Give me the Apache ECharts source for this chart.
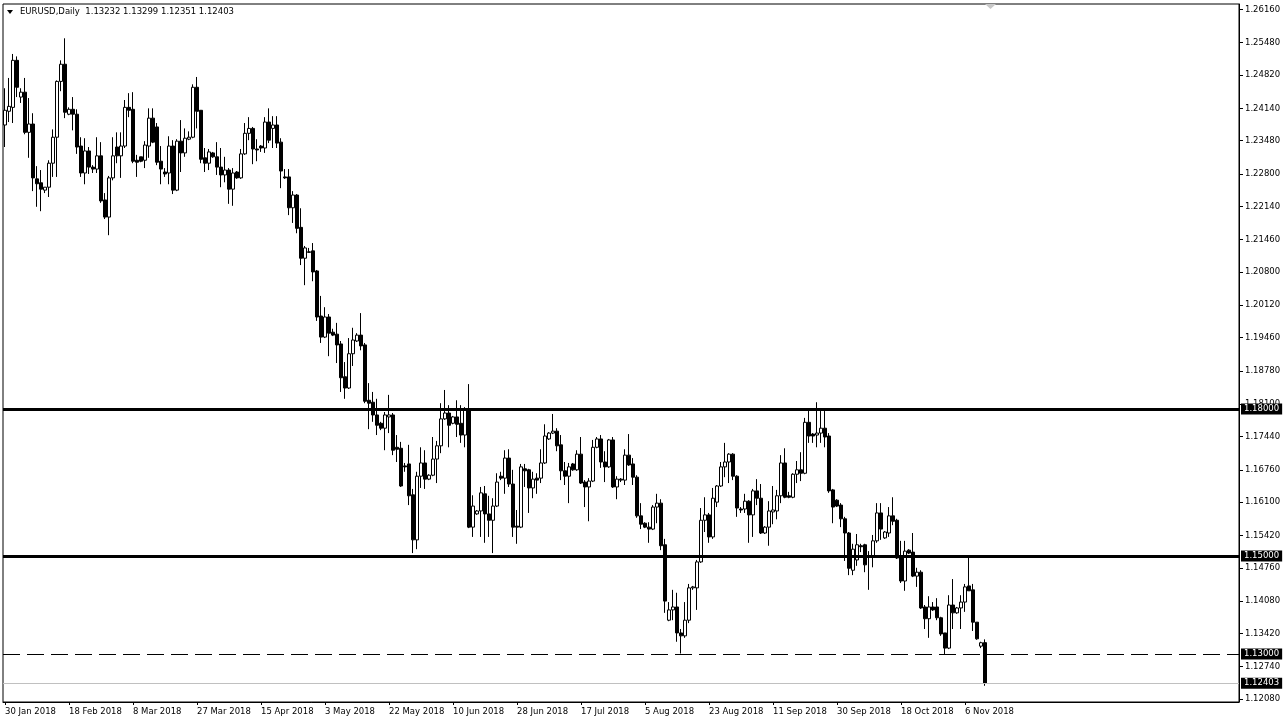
<!DOCTYPE html>
<html><head><meta charset="utf-8">
<script src="https://cdn.jsdelivr.net/npm/echarts@6/dist/echarts.min.js"></script>
<style>html,body{margin:0;padding:0;background:#fff}#c{width:1285px;height:727px}</style>
</head><body><div id="c"></div>
<script>
const chartTitle = 'EURUSD,Daily  1.13232 1.13299 1.12351 1.12403';
const xTickLabels = ['30 Jan 2018','18 Feb 2018','8 Mar 2018','27 Mar 2018','15 Apr 2018','3 May 2018','22 May 2018','10 Jun 2018','28 Jun 2018','17 Jul 2018','5 Aug 2018','23 Aug 2018','11 Sep 2018','30 Sep 2018','18 Oct 2018','6 Nov 2018'];
const barsPerLabel = 16;
const totalSlots = 309;
const yTickValues = [1.26160,1.25480,1.24820,1.24140,1.23480,1.22800,1.22140,1.21460,1.20800,1.20120,1.19460,1.18780,1.18100,1.17440,1.16760,1.16100,1.15420,1.14760,1.14080,1.13420,1.12740,1.12080];
const yMin = 1.1202, yMax = 1.2627;
const solidLevels = [1.18, 1.15];
const dashedLevel = 1.13;
const bidLevel = 1.12403;

const opens = [1.2380,1.2408,1.2416,1.2512,1.2437,1.2447,1.2365,1.2382,1.2270,1.2262,1.2247,1.2253,1.2302,1.2355,1.2469,1.2504,1.2402,1.2412,1.2402,1.2337,
1.2282,1.2327,1.2294,1.2290,1.2317,1.2227,1.2192,1.2272,1.2335,1.2317,1.2337,1.2416,1.2412,1.2308,1.2315,1.2308,1.2337,1.2394,1.2376,1.2306,
1.2284,1.2282,1.2337,1.2247,1.2347,1.2323,1.2351,1.2355,1.2457,1.2410,1.2313,1.2302,1.2323,1.2315,1.2294,1.2278,1.2288,1.2249,1.2284,1.2272,
1.2321,1.2363,1.2373,1.2331,1.2337,1.2333,1.2386,1.2373,1.2380,1.2345,1.2274,1.2274,1.2211,1.2237,1.2171,1.2108,1.2121,1.2123,1.2082,1.1990,
1.1947,1.1988,1.1957,1.1953,1.1933,1.1866,1.1843,1.1913,1.1939,1.1951,1.1931,1.1818,1.1814,1.1788,1.1771,1.1761,1.1784,1.1788,1.1722,1.1720,
1.1684,1.1688,1.1625,1.1533,1.1663,1.1690,1.1657,1.1665,1.1698,1.1725,1.1780,1.1792,1.1771,1.1784,1.1771,1.1747,1.1798,1.1559,1.1586,1.1592,
1.1627,1.1586,1.1573,1.1602,1.1663,1.1659,1.1700,1.1647,1.1561,1.1559,1.1678,1.1676,1.1639,1.1659,1.1659,1.1690,1.1739,1.1751,1.1755,1.1727,
1.1674,1.1663,1.1688,1.1676,1.1708,1.1651,1.1641,1.1653,1.1722,1.1739,1.1692,1.1682,1.1737,1.1641,1.1657,1.1655,1.1706,1.1688,1.1661,1.1582,
1.1567,1.1559,1.1555,1.1600,1.1608,1.1523,1.1369,1.1390,1.1396,1.1343,1.1337,1.1369,1.1435,1.1435,1.1488,1.1573,1.1584,1.1539,1.1610,1.1643,
1.1682,1.1692,1.1708,1.1663,1.1596,1.1596,1.1612,1.1584,1.1633,1.1618,1.1547,1.1559,1.1590,1.1592,1.1623,1.1690,1.1623,1.1620,1.1667,1.1676,
1.1669,1.1773,1.1749,1.1747,1.1751,1.1761,1.1745,1.1635,1.1614,1.1604,1.1576,1.1547,1.1471,1.1492,1.1521,1.1523,1.1500,1.1498,1.1531,1.1588,
1.1537,1.1547,1.1582,1.1573,1.1498,1.1449,1.1512,1.1508,1.1459,1.1467,1.1396,1.1372,1.1396,1.1396,1.1374,1.1343,1.1312,1.1400,1.1384,1.1394,
1.1406,1.1439,1.1431,1.1365,1.1316,1.13232];

const closes = [1.2410,1.2418,1.2512,1.2457,1.2447,1.2365,1.2382,1.2272,1.2260,1.2249,1.2253,1.2302,1.2355,1.2469,1.2504,1.2406,1.2412,1.2402,1.2335,1.2282,
1.2327,1.2294,1.2290,1.2317,1.2225,1.2192,1.2272,1.2317,1.2317,1.2337,1.2416,1.2410,1.2306,1.2304,1.2306,1.2339,1.2394,1.2345,1.2304,1.2290,
1.2280,1.2337,1.2247,1.2347,1.2323,1.2353,1.2355,1.2457,1.2408,1.2310,1.2302,1.2325,1.2315,1.2294,1.2278,1.2288,1.2249,1.2282,1.2272,1.2321,
1.2363,1.2373,1.2331,1.2329,1.2333,1.2386,1.2349,1.2380,1.2343,1.2286,1.2272,1.2211,1.2237,1.2169,1.2108,1.2129,1.2120,1.2080,1.1988,1.1947,
1.1988,1.1955,1.1951,1.1931,1.1864,1.1843,1.1913,1.1941,1.1951,1.1929,1.1816,1.1812,1.1788,1.1767,1.1761,1.1788,1.1788,1.1716,1.1718,1.1643,
1.1682,1.1623,1.1533,1.1663,1.1690,1.1657,1.1665,1.1698,1.1725,1.1780,1.1792,1.1767,1.1784,1.1769,1.1747,1.1798,1.1559,1.1602,1.1592,1.1629,
1.1586,1.1573,1.1602,1.1651,1.1659,1.1700,1.1647,1.1559,1.1559,1.1682,1.1674,1.1639,1.1657,1.1655,1.1690,1.1745,1.1751,1.1755,1.1725,1.1674,
1.1663,1.1682,1.1676,1.1708,1.1649,1.1641,1.1653,1.1722,1.1739,1.1692,1.1682,1.1737,1.1641,1.1657,1.1655,1.1706,1.1686,1.1661,1.1582,1.1565,
1.1559,1.1555,1.1600,1.1608,1.1521,1.1408,1.1390,1.1396,1.1343,1.1337,1.1369,1.1435,1.1437,1.1488,1.1573,1.1584,1.1539,1.1618,1.1643,1.1682,
1.1692,1.1708,1.1663,1.1598,1.1594,1.1612,1.1584,1.1633,1.1618,1.1547,1.1559,1.1592,1.1594,1.1623,1.1690,1.1620,1.1620,1.1667,1.1676,1.1669,
1.1773,1.1745,1.1745,1.1751,1.1761,1.1743,1.1633,1.1600,1.1602,1.1576,1.1547,1.1475,1.1514,1.1523,1.1519,1.1482,1.1498,1.1531,1.1588,1.1555,
1.1549,1.1582,1.1571,1.1496,1.1449,1.1510,1.1506,1.1459,1.1467,1.1394,1.1372,1.1396,1.1390,1.1374,1.1341,1.1312,1.1400,1.1384,1.1394,1.1406,
1.1437,1.1429,1.1365,1.1331,1.1323,1.12403];

const lows = [1.2335,1.2386,1.2384,1.2437,1.2425,1.2361,1.2313,1.2245,1.2213,1.2204,1.2241,1.2233,1.2274,1.2274,1.2449,1.2394,1.2400,1.2369,1.2321,1.2274,
1.2259,1.2280,1.2282,1.2282,1.2221,1.2188,1.2155,1.2267,1.2302,1.2272,1.2333,1.2396,1.2302,1.2274,1.2304,1.2292,1.2313,1.2343,1.2298,1.2259,
1.2274,1.2259,1.2239,1.2245,1.2284,1.2315,1.2349,1.2353,1.2373,1.2302,1.2284,1.2288,1.2313,1.2278,1.2253,1.2263,1.2219,1.2215,1.2270,1.2270,
1.2319,1.2349,1.2300,1.2306,1.2325,1.2323,1.2343,1.2333,1.2333,1.2251,1.2270,1.2196,1.2180,1.2159,1.2094,1.2053,1.2119,1.2061,1.1980,1.1935,
1.1945,1.1908,1.1949,1.1894,1.1835,1.1821,1.1841,1.1888,1.1937,1.1920,1.1812,1.1759,1.1774,1.1747,1.1757,1.1716,1.1751,1.1706,1.1692,1.1641,
1.1672,1.1604,1.1506,1.1514,1.1639,1.1637,1.1655,1.1663,1.1649,1.1710,1.1778,1.1722,1.1769,1.1743,1.1731,1.1722,1.1557,1.1539,1.1584,1.1539,
1.1527,1.1539,1.1506,1.1600,1.1655,1.1627,1.1641,1.1539,1.1525,1.1557,1.1641,1.1588,1.1618,1.1627,1.1649,1.1688,1.1737,1.1749,1.1714,1.1655,
1.1645,1.1608,1.1674,1.1674,1.1647,1.1600,1.1571,1.1651,1.1720,1.1680,1.1651,1.1680,1.1639,1.1616,1.1651,1.1645,1.1684,1.1645,1.1578,1.1555,
1.1557,1.1527,1.1553,1.1567,1.1512,1.1384,1.1367,1.1369,1.1325,1.1301,1.1333,1.1363,1.1431,1.1390,1.1486,1.1549,1.1527,1.1535,1.1600,1.1641,
1.1661,1.1649,1.1655,1.1580,1.1588,1.1588,1.1527,1.1539,1.1604,1.1545,1.1545,1.1521,1.1565,1.1575,1.1608,1.1618,1.1618,1.1618,1.1649,1.1653,
1.1667,1.1731,1.1731,1.1722,1.1731,1.1722,1.1629,1.1567,1.1600,1.1559,1.1490,1.1461,1.1461,1.1480,1.1508,1.1467,1.1431,1.1477,1.1527,1.1533,
1.1535,1.1539,1.1563,1.1494,1.1445,1.1429,1.1504,1.1457,1.1437,1.1392,1.1351,1.1333,1.1388,1.1369,1.1337,1.1300,1.1310,1.1351,1.1382,1.1351,
1.1386,1.1429,1.1347,1.1329,1.1312,1.12351];

const highs = [1.2455,1.2476,1.2525,1.2520,1.2455,1.2476,1.2435,1.2404,1.2296,1.2288,1.2253,1.2308,1.2371,1.2471,1.2512,1.2557,1.2416,1.2437,1.2412,1.2355,
1.2353,1.2335,1.2298,1.2355,1.2345,1.2241,1.2276,1.2355,1.2365,1.2365,1.2431,1.2445,1.2447,1.2319,1.2315,1.2347,1.2414,1.2414,1.2384,1.2337,
1.2292,1.2357,1.2349,1.2351,1.2390,1.2373,1.2367,1.2463,1.2478,1.2410,1.2333,1.2331,1.2325,1.2345,1.2333,1.2315,1.2292,1.2292,1.2286,1.2331,
1.2384,1.2396,1.2376,1.2351,1.2339,1.2396,1.2414,1.2398,1.2398,1.2353,1.2290,1.2290,1.2245,1.2239,1.2210,1.2133,1.2129,1.2139,1.2084,1.2031,
1.2008,1.1994,1.1964,1.1976,1.1939,1.1896,1.1945,1.1966,1.1955,1.1996,1.1935,1.1853,1.1835,1.1821,1.1774,1.1794,1.1829,1.1792,1.1747,1.1733,
1.1690,1.1727,1.1637,1.1672,1.1722,1.1716,1.1667,1.1743,1.1735,1.1812,1.1839,1.1808,1.1786,1.1818,1.1808,1.1804,1.1851,1.1624,1.1594,1.1641,
1.1643,1.1623,1.1618,1.1669,1.1672,1.1716,1.1718,1.1676,1.1594,1.1688,1.1688,1.1678,1.1672,1.1669,1.1718,1.1769,1.1753,1.1790,1.1761,1.1747,
1.1692,1.1690,1.1690,1.1716,1.1743,1.1655,1.1659,1.1737,1.1743,1.1747,1.1714,1.1739,1.1743,1.1663,1.1659,1.1718,1.1749,1.1700,1.1665,1.1608,
1.1569,1.1569,1.1604,1.1627,1.1616,1.1535,1.1406,1.1431,1.1425,1.1351,1.1406,1.1443,1.1439,1.1492,1.1598,1.1620,1.1588,1.1639,1.1645,1.1692,
1.1731,1.1710,1.1710,1.1665,1.1600,1.1627,1.1614,1.1637,1.1657,1.1647,1.1561,1.1612,1.1643,1.1635,1.1706,1.1720,1.1631,1.1669,1.1694,1.1712,
1.1782,1.1796,1.1751,1.1814,1.1796,1.1796,1.1751,1.1637,1.1616,1.1608,1.1580,1.1549,1.1525,1.1545,1.1525,1.1525,1.1510,1.1543,1.1608,1.1608,
1.1551,1.1600,1.1620,1.1576,1.1531,1.1531,1.1514,1.1547,1.1476,1.1471,1.1400,1.1418,1.1406,1.1414,1.1376,1.1343,1.1420,1.1453,1.1396,1.1420,
1.1443,1.1496,1.1443,1.1365,1.1325,1.13299];

const FONT = 'DejaVu Sans';
const categories = Array.from({length: totalSlots}, (_, i) => String(i));
const candleData = opens.map((o, i) => [o, closes[i], lows[i], highs[i]]);
const isLabelSlot = (i) => i % barsPerLabel === 0 && (i / barsPerLabel) < xTickLabels.length;

const makeBoxLabel = () => ({
  show: true, position: 'end', distance: 2,
  color: '#fff', backgroundColor: '#000', fontFamily: FONT, fontSize: 8.5,
  padding: [1, 3, 1, 3], formatter: (p) => Number(p.value).toFixed(5)
});

const chart = echarts.init(document.getElementById('c'), null, {renderer: 'canvas'});
chart.setOption({
  animation: false,
  backgroundColor: '#fff',
  title: {
    text: chartTitle, left: 20, top: 7, padding: 0,
    textStyle: {fontFamily: FONT, fontSize: 8.5, fontWeight: 'normal', color: '#000'}
  },
  graphic: [
    {type: 'polygon', shape: {points: [[7, 10], [13, 10], [10, 14]]}, style: {fill: '#000'}},
    {type: 'polygon', shape: {points: [[985, 4], [996, 4], [990.5, 9]]}, style: {fill: '#c8c8c8'}}
  ],
  grid: {left: 3, top: 4, width: 1236, height: 698, show: true, borderColor: '#000', borderWidth: 1, backgroundColor: '#fff'},
  xAxis: {
    type: 'category', data: categories, boundaryGap: true,
    axisLine: {show: true, lineStyle: {color: '#000', width: 1}},
    axisTick: {show: true, alignWithLabel: true, interval: (i) => isLabelSlot(i), length: 3, lineStyle: {color: '#000'}},
    axisLabel: {
      show: true, interval: (i) => isLabelSlot(i), align: 'left', margin: 5,
      fontFamily: FONT, fontSize: 8.5, color: '#000', hideOverlap: false,
      formatter: (v, i) => xTickLabels[i / barsPerLabel] || ''
    },
    splitLine: {show: false}
  },
  yAxis: {
    type: 'value', position: 'right', min: yMin, max: yMax, scale: true,
    axisLine: {show: true, lineStyle: {color: '#000', width: 1}},
    axisTick: {show: true, customValues: yTickValues, length: 4, lineStyle: {color: '#000'}},
    axisLabel: {show: true, customValues: yTickValues, margin: 6, fontFamily: FONT, fontSize: 8.5, color: '#000',
      formatter: (v) => v.toFixed(5), showMinLabel: true, showMaxLabel: true},
    splitLine: {show: false}
  },
  series: [{
    type: 'candlestick',
    data: candleData,
    barWidth: 3,
    z: 3,
    itemStyle: {color: '#fff', color0: '#000', borderColor: '#000', borderColor0: '#000', borderWidth: 1},
    markLine: {
      silent: true, symbol: ['none', 'none'], animation: false, precision: 5,
      data: [
        {yAxis: solidLevels[0], lineStyle: {color: '#000', width: 3, type: 'solid'}, label: makeBoxLabel()},
        {yAxis: solidLevels[1], lineStyle: {color: '#000', width: 3, type: 'solid'}, label: makeBoxLabel()},
        {yAxis: dashedLevel, lineStyle: {color: '#000', width: 1, type: [17, 7]}, label: makeBoxLabel()},
        {yAxis: bidLevel, lineStyle: {color: '#c0c0c0', width: 1, type: 'solid'}, label: makeBoxLabel()}
      ]
    }
  }]
});
</script></body></html>
